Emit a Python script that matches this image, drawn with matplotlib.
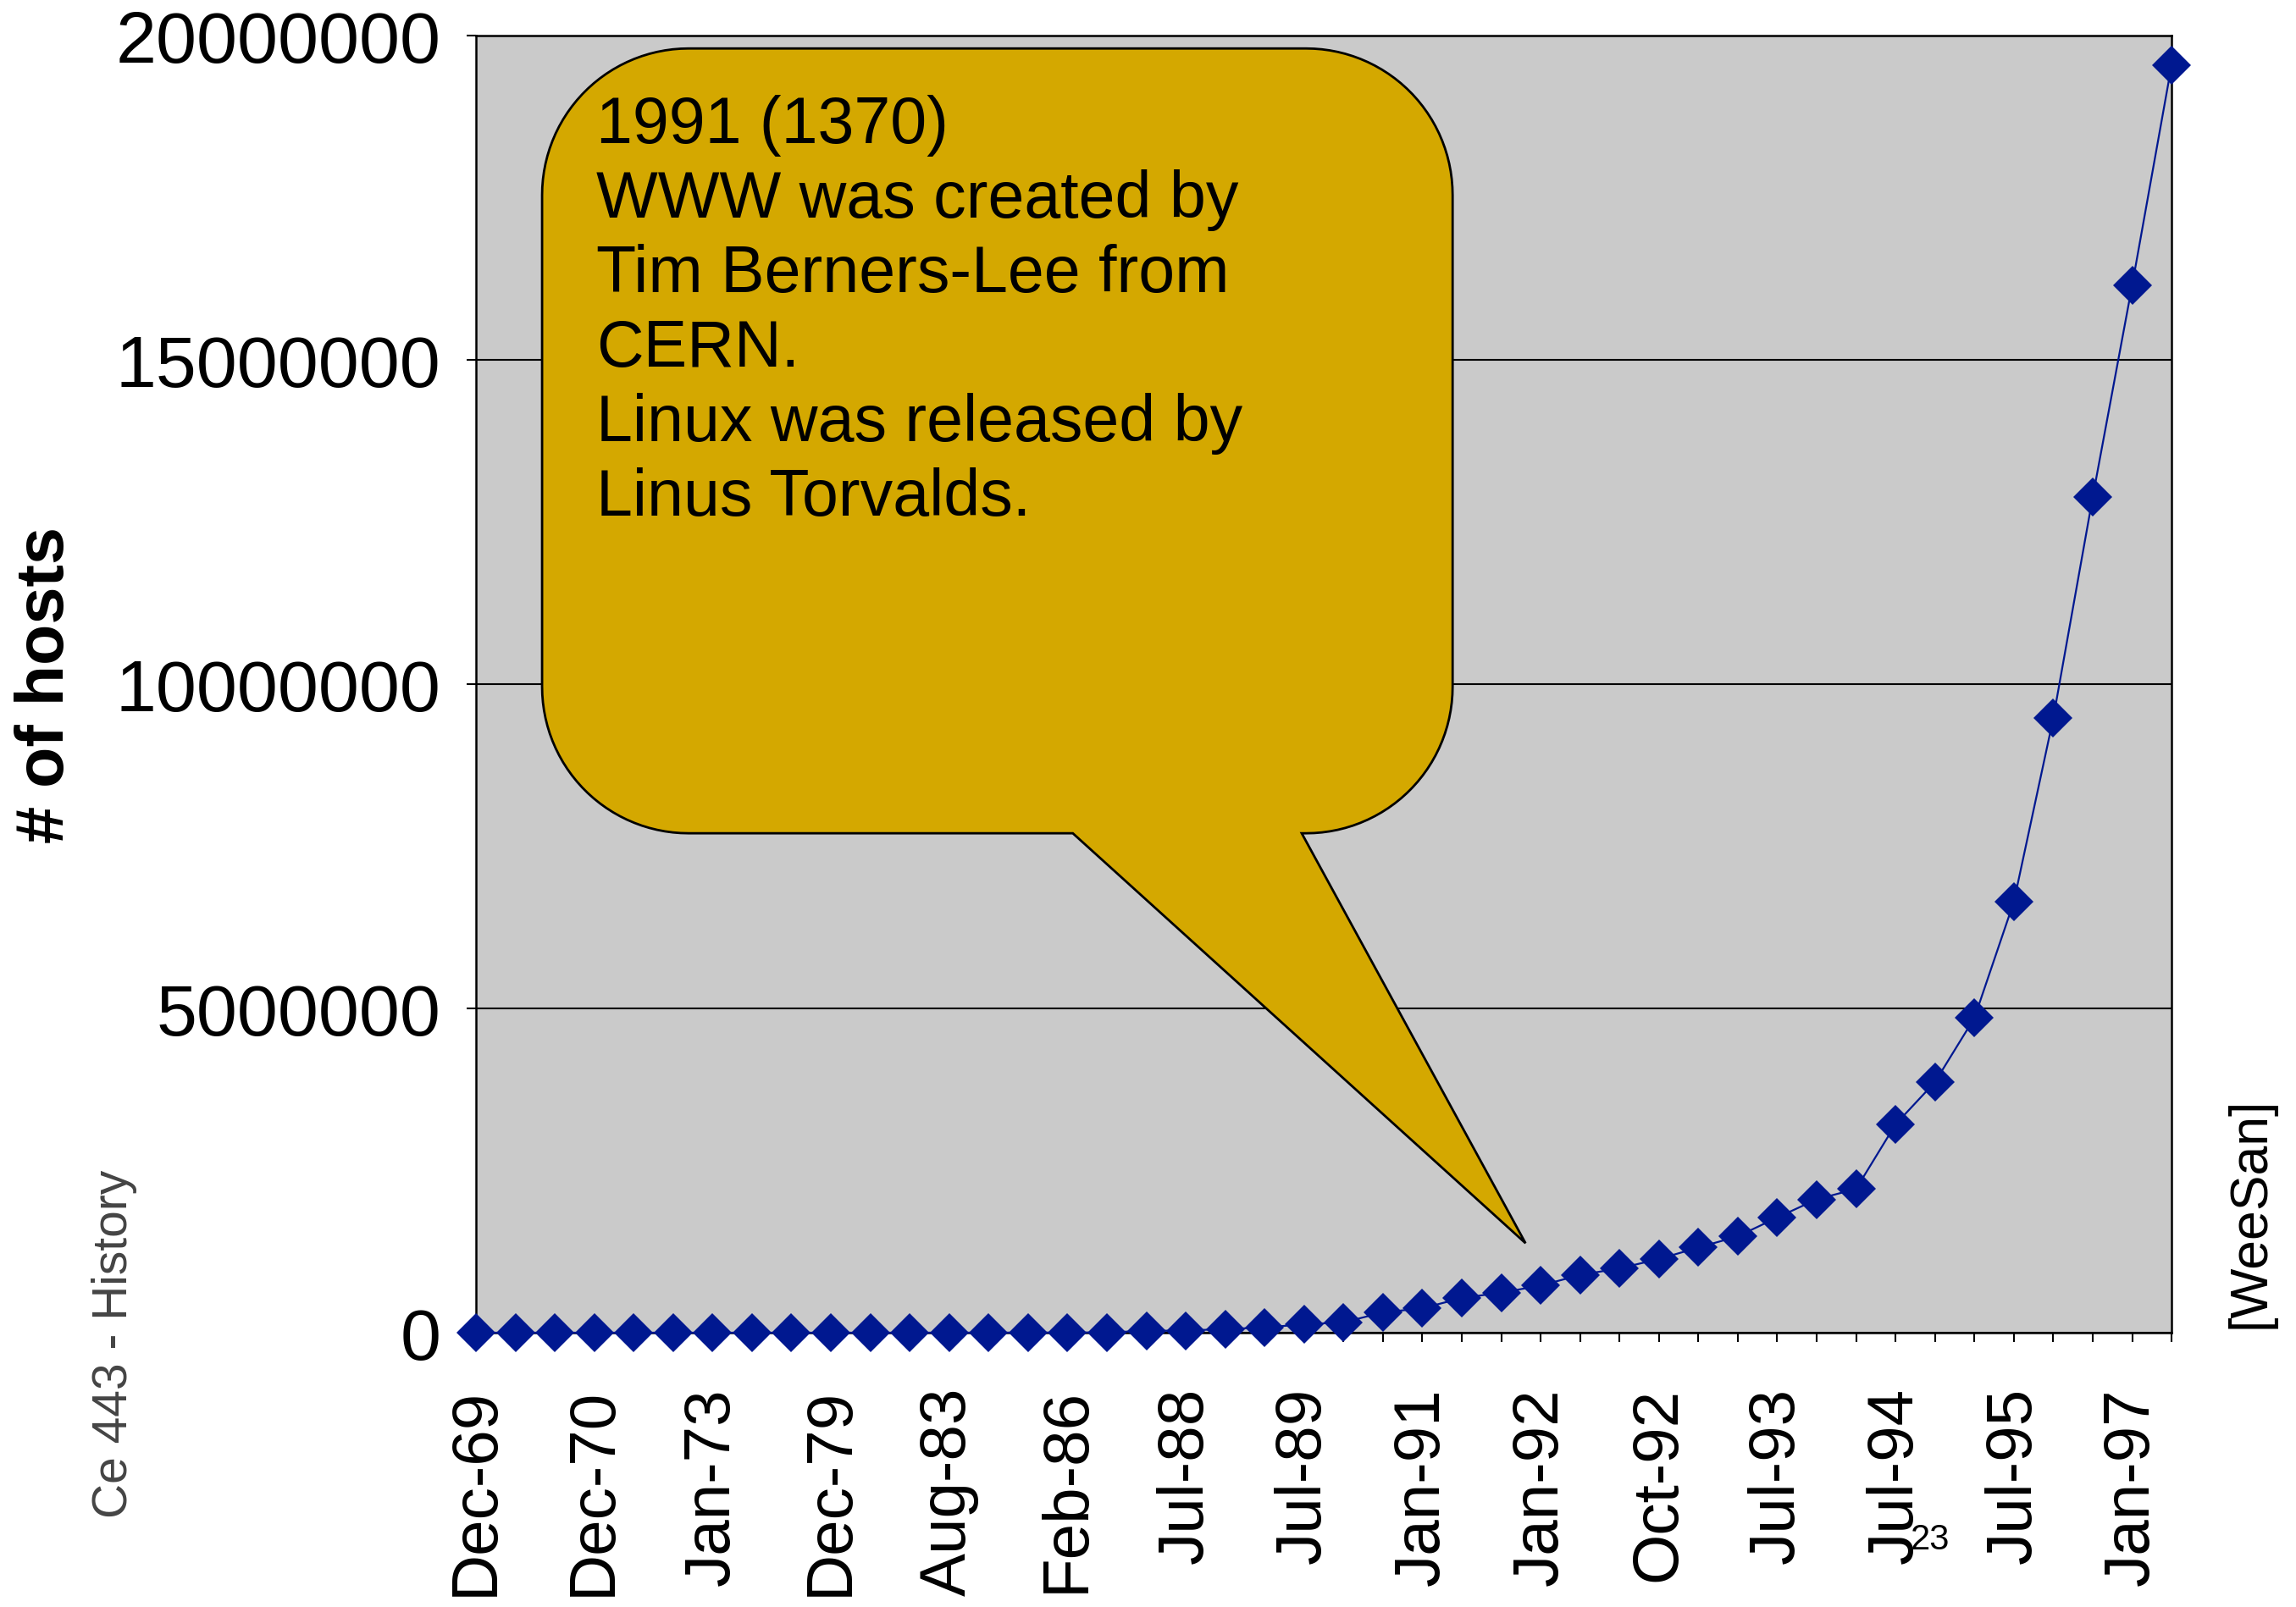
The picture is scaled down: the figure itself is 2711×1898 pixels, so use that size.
import numpy as np
import matplotlib
matplotlib.use('Agg')
import matplotlib.pyplot as plt
from matplotlib.path import Path
from matplotlib.patches import PathPatch

plt.rcParams['font.family'] = ['Liberation Sans', 'DejaVu Sans']

# Internet host counts
dates = ['Dec-69', 'Jun-70', 'Oct-70', 'Dec-70', 'Apr-71', 'Oct-72', 'Jan-73', 'Jun-74',
         'Mar-77', 'Dec-79', 'Aug-81', 'May-82', 'Aug-83', 'Oct-84', 'Oct-85', 'Feb-86',
         'Nov-86', 'Dec-87', 'Jul-88', 'Oct-88', 'Jan-89', 'Jul-89', 'Oct-89', 'Oct-90',
         'Jan-91', 'Jul-91', 'Oct-91', 'Jan-92', 'Apr-92', 'Jul-92', 'Oct-92', 'Jan-93',
         'Apr-93', 'Jul-93', 'Oct-93', 'Jan-94', 'Jul-94', 'Oct-94', 'Jan-95', 'Jul-95',
         'Jan-96', 'Jul-96', 'Jan-97', 'Jul-97']
hosts = [4, 9, 11, 13, 23, 31, 35, 62, 111, 188, 213, 235, 562, 1024, 1961, 2308,
         5089, 28174, 33000, 56000, 80000, 130000, 159000, 313000, 376000, 535000,
         617000, 727000, 890000, 992000, 1136000, 1313000, 1486000, 1776000, 2056000,
         2217000, 3212000, 3864000, 4852000, 6642000, 9472000, 12881000, 16146000,
         19540000]
yticks = [0, 5000000, 10000000, 15000000, 20000000]

callout = "1991 (1370)\nWWW was created by\nTim Berners-Lee from\nCERN.\nLinux was released by\nLinus Torvalds."

fig = plt.figure(figsize=(27.11, 18.99), dpi=100)
ax = fig.add_axes([0.2073, 0.1706, 0.7385, 0.8068])
ax.set_facecolor('#cacaca')

x = np.arange(len(hosts))
ax.plot(x, hosts, color='#001890', lw=1.6, marker='D', markersize=23,
        markeredgewidth=0, clip_on=False, zorder=5)

ax.set_xlim(0, len(hosts) - 1)
ax.set_ylim(0, 20000000)
ax.set_yticks(yticks)
ax.set_yticklabels([str(v) for v in yticks], fontsize=62)
ax.set_xticks(x)
ax.set_xticklabels([d if i % 3 == 0 else '' for i, d in enumerate(dates)],
                   rotation=90, fontsize=55)
ax.tick_params(axis='x', length=8, width=1.5, pad=38)
ax.tick_params(axis='y', length=8, width=1.5, pad=22)
for s in ax.spines.values():
    s.set_linewidth(1.8)
    s.set_color('black')
ax.yaxis.grid(True, color='black', lw=1.5)
ax.set_axisbelow(True)
ax.set_ylabel('# of hosts', fontsize=57, fontweight='bold', labelpad=32)

# speech bubble
x0, x1, y0, y1 = 0.039, 0.576, 0.385, 0.990
rx, ry = 0.0864, 0.113
xb1, xb2, tip = 0.352, 0.487, (0.619, 0.069)


def arc(cx, cy, a0, a1):
    t = np.linspace(np.radians(a0), np.radians(a1), 30)
    return list(zip(cx + rx * np.cos(t), cy + ry * np.sin(t)))


pts = [(x0 + rx, y1), (x1 - rx, y1)]
pts += arc(x1 - rx, y1 - ry, 90, 0)
pts += [(x1, y0 + ry)]
pts += arc(x1 - rx, y0 + ry, 0, -90)
pts += [(xb2, y0), tip, (xb1, y0), (x0 + rx, y0)]
pts += arc(x0 + rx, y0 + ry, -90, -180)
pts += [(x0, y1 - ry)]
pts += arc(x0 + rx, y1 - ry, 180, 90)
pts.append(pts[0])
bubble = PathPatch(Path(pts), transform=ax.transAxes, facecolor='#d4a800',
                   edgecolor='black', lw=2, zorder=6, clip_on=False)
ax.add_patch(bubble)
ax.text(0.071, 0.955, callout, transform=ax.transAxes, fontsize=55.5,
        va='top', ha='left', linespacing=1.265, zorder=7)

fig.text(135 / 2711, 1 - 1587 / 1899, 'Ce 443 - History', rotation=90, fontsize=41,
         color='#444444', ha='center', va='center')
fig.text(2657 / 2711, 1 - 1432 / 1899, '[WeeSan]', rotation=90, fontsize=45,
         ha='center', va='center')
fig.text(2279 / 2711, 1 - 1819 / 1899, '23', fontsize=30, ha='center', va='center')

fig.savefig('out.png', dpi=100)
